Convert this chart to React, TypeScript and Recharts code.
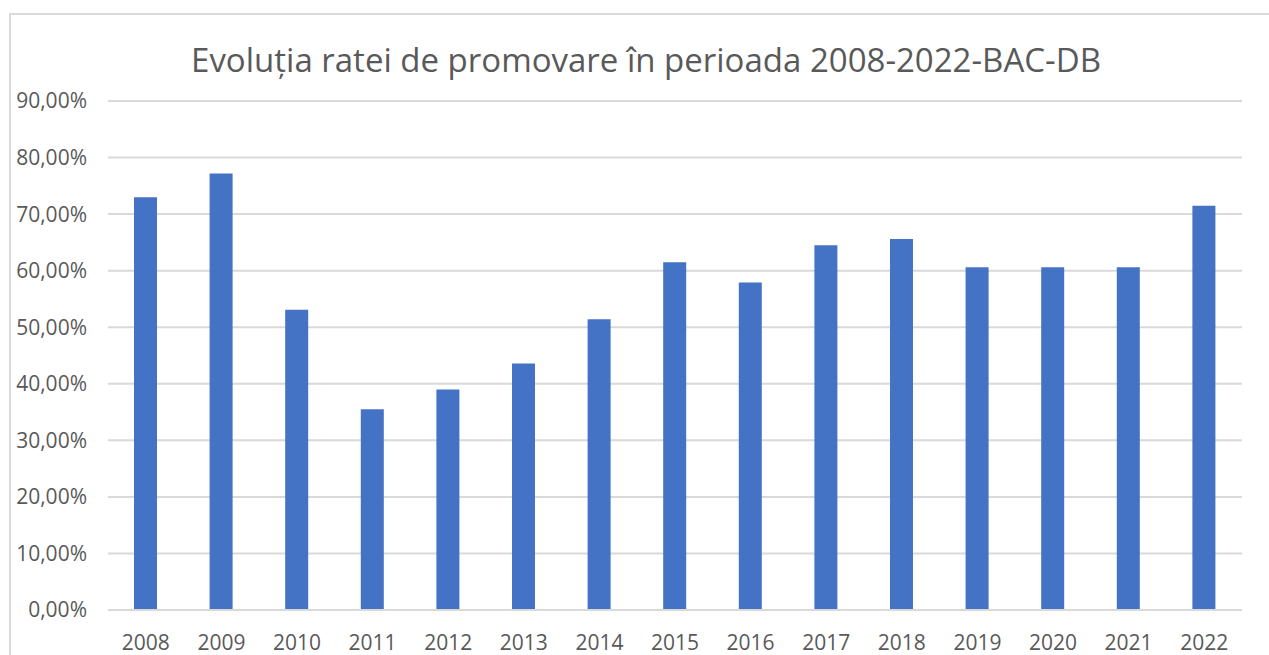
import React from "react";
import { BarChart, Bar, XAxis, YAxis, CartesianGrid } from "recharts";

const years = ["2008", "2009", "2010", "2011", "2012", "2013", "2014", "2015", "2016", "2017", "2018", "2019", "2020", "2021", "2022"];
const rates = [73.0, 77.2, 53.1, 35.5, 39.0, 43.6, 51.4, 61.5, 57.9, 64.5, 65.6, 60.6, 60.6, 60.6, 71.5];
const yTicks = [0, 10, 20, 30, 40, 50, 60, 70, 80, 90];
const title = "Evoluția ratei de promovare în perioada 2008-2022-BAC-DB";

const data = years.map((y, i) => ({ year: y, rate: rates[i] }));
const fmt = (v: number) => `${v.toFixed(2).replace(".", ",")}%`;
const FONT = "'Open Sans', sans-serif";
const GREY = "#595959";

export default function App() {
  return (
    <div style={{ position: "absolute", left: 0, top: 0, width: 1269, height: 655, overflow: "hidden", background: "#fff" }}>
      <div style={{ position: "absolute", left: 9, top: 13, width: 1400, height: 800, border: "2px solid #d9d9d9", boxSizing: "border-box" }} />
      <div style={{ position: "absolute", left: 646, top: 42, transform: "translateX(-50%)", whiteSpace: "nowrap", fontFamily: FONT, fontSize: 33, lineHeight: "36px", color: GREY }}>
        {title}
      </div>
      <div style={{ position: "absolute", left: 0, top: 0 }}>
        <BarChart width={1269} height={655} data={data} margin={{ top: 101, right: 27, bottom: 0, left: 0 }} barCategoryGap={0}>
          <CartesianGrid vertical={false} stroke="#d9d9d9" strokeWidth={2} />
          <XAxis
            dataKey="year"
            height={45}
            axisLine={{ stroke: "#d9d9d9", strokeWidth: 2 }}
            tickLine={false}
            tickSize={0}
            tickMargin={25}
            interval={0}
            tick={{ fill: GREY, fontSize: 21, fontFamily: FONT }}
          />
          <YAxis
            width={108}
            domain={[0, 90]}
            ticks={yTicks}
            interval={0}
            axisLine={false}
            tickLine={false}
            tickSize={0}
            tickMargin={21}
            tickFormatter={fmt}
            tick={{ fill: GREY, fontSize: 21, fontFamily: FONT }}
          />
          <Bar dataKey="rate" fill="#4472C4" barSize={23} isAnimationActive={false} />
        </BarChart>
      </div>
    </div>
  );
}
